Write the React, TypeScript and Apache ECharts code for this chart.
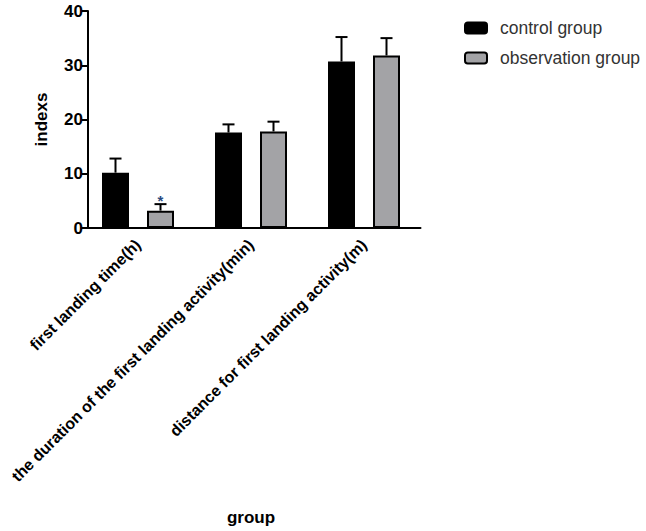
import React, { useEffect, useRef } from "react";
import * as echarts from "echarts";

const categories = [
  "first landing time(h)",
  "the duration of the first landing activity(min)",
  "distance for first landing activity(m)",
];
const controlMeans = [10.2, 17.6, 30.7];
const controlErr = [2.6, 1.5, 4.5];
const obsMeans = [3.2, 17.8, 31.8];
const obsErr = [1.2, 1.8, 3.2];
const obsSig = ["*", "", ""];
const yTicks = [0, 10, 20, 30, 40];

const BAR_W = 27;
const BAR_GAP_PX = 18;
const OFFSET = (BAR_W + BAR_GAP_PX) / 2;
const FONT = "'Liberation Sans', Arial, sans-serif";

function errSeries(name: string, means: number[], errs: number[], sign: number, sig?: string[]) {
  return {
    type: "custom",
    name: name + "-err",
    silent: true,
    z: 1,
    data: means.map((m, i) => [i, m, m + errs[i]]),
    renderItem: (params: any, api: any) => {
      const idx = api.value(0);
      const base = api.coord([idx, api.value(1)]);
      const top = api.coord([idx, api.value(2)]);
      const x = base[0] + sign * OFFSET;
      const children: any[] = [
        { type: "line", shape: { x1: x, y1: base[1], x2: x, y2: top[1] }, style: { stroke: "#000", lineWidth: 2 } },
        { type: "line", shape: { x1: x - 6, y1: top[1], x2: x + 6, y2: top[1] }, style: { stroke: "#000", lineWidth: 2 } },
      ];
      if (sig && sig[idx]) {
        children.push({
          type: "text",
          style: {
            text: sig[idx],
            x: x,
            y: top[1] - 4,
            align: "center",
            verticalAlign: "middle",
            fill: "#2a4a80",
            font: "bold 15px " + FONT,
          },
        });
      }
      return { type: "group", children };
    },
  };
}

export default function App() {
  const ref = useRef<HTMLDivElement>(null);
  useEffect(() => {
    if (!ref.current) return;
    const chart = echarts.init(ref.current, null, { renderer: "svg" });
    chart.setOption({
      animation: false,
      backgroundColor: "#fff",
      legend: {
        left: 459,
        top: 14,
        orient: "vertical",
        itemWidth: 22,
        itemHeight: 11,
        itemGap: 12,
        textStyle: { fontFamily: FONT, fontSize: 17.5, color: "#333", padding: [0, 0, 0, 8] },
        data: [
          { name: "control group", itemStyle: { color: "#000", borderColor: "#000", borderWidth: 2 } },
          { name: "observation group", itemStyle: { color: "#a3a3a6", borderColor: "#000", borderWidth: 2 } },
        ],
      },
      grid: { left: 81.5, top: 11, width: 339, height: 217 },
      xAxis: {
        type: "category",
        data: categories,
        name: "group",
        nameLocation: "middle",
        nameGap: 281,
        nameTextStyle: { fontFamily: FONT, fontWeight: "bold", fontSize: 17, color: "#000" },
        axisLine: { lineStyle: { color: "#000", width: 2 } },
        axisTick: { alignWithLabel: true, length: 6, lineStyle: { color: "#000", width: 2 } },
        axisLabel: {
          rotate: 45,
          interval: 0,
          margin: 14,
          fontFamily: FONT,
          fontWeight: "bold",
          fontSize: 16,
          color: "#000",
        },
      },
      yAxis: {
        type: "value",
        min: 0,
        max: 40,
        interval: 10,
        offset: -6.5,
        name: "indexs",
        nameLocation: "middle",
        nameGap: 38,
        nameTextStyle: { fontFamily: FONT, fontWeight: "bold", fontSize: 17, color: "#000" },
        axisLine: { show: true, lineStyle: { color: "#000", width: 2 } },
        axisTick: { show: true, length: 6, lineStyle: { color: "#000", width: 2 } },
        axisLabel: {
          fontFamily: FONT,
          fontWeight: "bold",
          fontSize: 17,
          color: "#000",
          margin: 5,
          customValues: yTicks,
        },
        splitLine: { show: false },
      },
      series: [
        {
          type: "bar",
          name: "control group",
          data: controlMeans,
          barWidth: BAR_W,
          barGap: (BAR_GAP_PX / BAR_W) * 100 + "%",
          itemStyle: { color: "#000", borderColor: "#000", borderWidth: 2 },
          z: 2,
        },
        {
          type: "bar",
          name: "observation group",
          data: obsMeans,
          barWidth: BAR_W,
          barGap: (BAR_GAP_PX / BAR_W) * 100 + "%",
          itemStyle: { color: "#a3a3a6", borderColor: "#000", borderWidth: 2 },
          z: 2,
        },
        errSeries("control group", controlMeans, controlErr, -1),
        errSeries("observation group", obsMeans, obsErr, 1, obsSig),
      ],
    });
    return () => chart.dispose();
  }, []);
  return <div ref={ref} style={{ position: "fixed", left: 0, top: 0, width: 646, height: 531 }} />;
}
